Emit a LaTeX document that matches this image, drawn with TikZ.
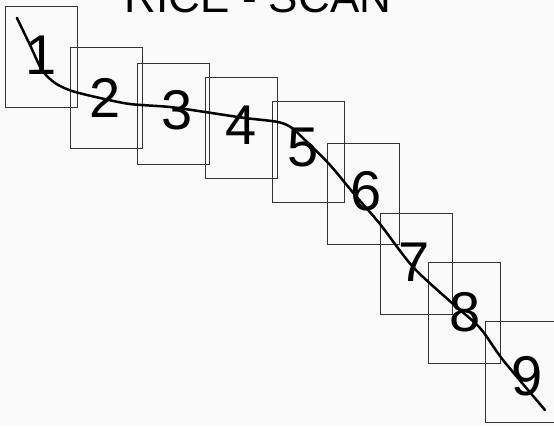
\documentclass[tikz,border=0pt]{standalone}
\usepackage{fontspec}
\setmainfont{Liberation Sans}
\begin{document}
\begin{tikzpicture}[x=1pt,y=-1pt]
    \tikzset{
        frame/.style={draw=black!80, line width=1.4pt, minimum width=72pt, minimum height=101pt, inner sep=0pt, anchor=north west},
        digit/.style={font=\fontsize{56}{56}\selectfont, inner sep=0pt},
        scanline/.style={line width=2.5pt, line cap=round}
    }
    \useasboundingbox (0,0) rectangle (554,426);
    \clip (0,0) rectangle (554,426);
    \fill[black!2] (0,0) rectangle (554,426);
    % title, cut off by the top edge
    \node[font=\fontsize{44}{44}\selectfont, anchor=base, inner sep=0pt] (title) at (258,12) {RICE - SCAN};
    % frames and their numbers
    \foreach \n/\x/\y/\dx/\dy in {1/5/6/41/55, 2/70/47/105/98, 3/137/63/177/110, 4/205/77/241/125,
                                  5/272/101/303/148, 6/327/143/366/191, 7/380/213/414/262,
                                  8/428/262/465/312, 9/485/321/527/376} {
        \node[frame] (frame\n) at (\x,\y) {};
        \node[digit] (digit\n) at (\dx,\dy) {\n};
    }
    \draw[scanline] plot[smooth] coordinates {(17,18) (30,45) (42,70) (55,83) (72,91) (100,98)
        (130,104) (170,107) (205,112) (245,118) (278,122) (292,128) (307,142) (330,165)
        (355,195) (380,224) (413,267) (452,303) (480,328) (503,360) (545,410)};
\end{tikzpicture}
\end{document}
